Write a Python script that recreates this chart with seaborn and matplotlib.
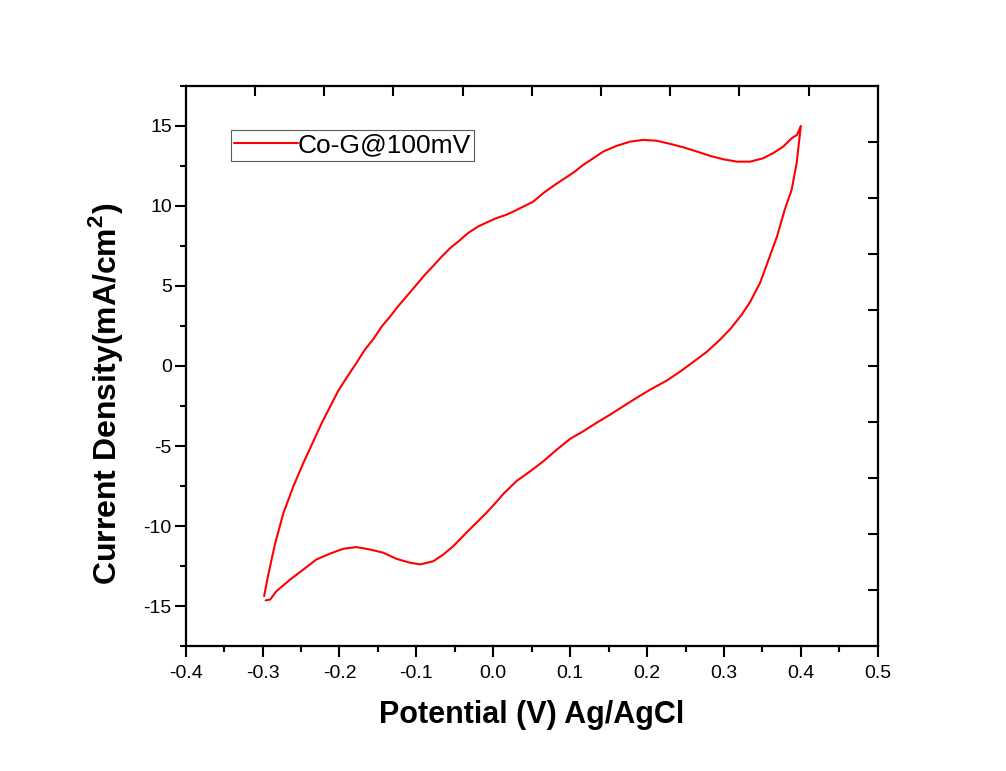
import matplotlib
matplotlib.use("Agg")
import matplotlib.pyplot as plt
import seaborn as sns
import pandas as pd
from matplotlib.ticker import MultipleLocator, FormatStrFormatter

# ---- data (anodic sweep then cathodic sweep) ----
x_fwd = [-0.298, -0.293, -0.284, -0.273, -0.260, -0.247, -0.235, -0.224, -0.212, -0.202,
         -0.191, -0.178, -0.167, -0.156, -0.145, -0.134, -0.124, -0.113, -0.100, -0.089,
         -0.078, -0.067, -0.056, -0.043, -0.033, -0.020, -0.009, 0.004, 0.017, 0.026,
         0.039, 0.052, 0.065, 0.080, 0.093, 0.106, 0.117, 0.130, 0.143, 0.160,
         0.178, 0.195, 0.212, 0.230, 0.247, 0.265, 0.282, 0.299, 0.317, 0.334,
         0.351, 0.364, 0.377, 0.388, 0.395, 0.400]
y_fwd = [-14.38, -13.13, -11.15, -9.20, -7.52, -6.06, -4.81, -3.66, -2.52, -1.58,
         -0.75, 0.19, 1.02, 1.68, 2.47, 3.10, 3.72, 4.34, 5.07, 5.70,
         6.26, 6.84, 7.37, 7.88, 8.30, 8.71, 8.96, 9.24, 9.45, 9.65,
         9.96, 10.27, 10.80, 11.32, 11.73, 12.15, 12.57, 12.98, 13.40, 13.75,
         14.02, 14.13, 14.08, 13.88, 13.67, 13.40, 13.13, 12.92, 12.77, 12.77,
         12.98, 13.30, 13.71, 14.23, 14.44, 15.00]

x_rev = [0.3945, 0.388, 0.379, 0.369, 0.358, 0.347, 0.334, 0.323, 0.308, 0.295,
         0.278, 0.260, 0.243, 0.226, 0.204, 0.186, 0.169, 0.152, 0.134, 0.117,
         0.100, 0.082, 0.065, 0.048, 0.030, 0.013, 0.004, -0.009, -0.022, -0.035,
         -0.052, -0.065, -0.078, -0.095, -0.108, -0.126, -0.143, -0.160, -0.178, -0.195,
         -0.212, -0.230, -0.247, -0.264, -0.282, -0.290, -0.296]
y_rev = [12.67, 11.00, 9.76, 8.09, 6.64, 5.20, 4.00, 3.20, 2.30, 1.65,
         0.90, 0.25, -0.35, -0.90, -1.48, -2.00, -2.52, -3.04, -3.56, -4.08,
         -4.55, -5.25, -5.96, -6.58, -7.20, -8.00, -8.50, -9.18, -9.80, -10.42,
         -11.26, -11.78, -12.20, -12.40, -12.30, -12.05, -11.67, -11.47, -11.32, -11.42,
         -11.72, -12.09, -12.72, -13.34, -14.07, -14.59, -14.65]

series_label = "Co-G@100mV"
x_label = "Potential (V) Ag/AgCl"
y_label = r"Current Density(mA/cm$^{\mathbf{2}}$)"

df = pd.DataFrame({"E": x_fwd + x_rev, "J": y_fwd + y_rev, "s": series_label})

sns.set_theme(style="white")
plt.rcParams["font.family"] = ["Liberation Sans", "DejaVu Sans"]
plt.rcParams["mathtext.fontset"] = "custom"
plt.rcParams["mathtext.rm"] = "Liberation Sans"
plt.rcParams["mathtext.bf"] = "Liberation Sans:bold"
plt.rcParams["axes.unicode_minus"] = False
for k in ("text.color", "axes.labelcolor", "xtick.color", "ytick.color",
          "axes.edgecolor"):
    plt.rcParams[k] = "black"

fig = plt.figure(figsize=(10.06, 7.71), dpi=100)
ax = fig.add_axes([0.1846, 0.1621, 0.6879, 0.7264])

sns.lineplot(data=df, x="E", y="J", hue="s", palette=["#FF0000"], sort=False,
             estimator=None, linewidth=1.5, ax=ax)

ax.set_xlim(-0.4, 0.5)
ax.set_ylim(-17.5, 17.5)
ax.xaxis.set_major_locator(MultipleLocator(0.1))
ax.xaxis.set_minor_locator(MultipleLocator(0.05))
ax.xaxis.set_major_formatter(FormatStrFormatter("%.1f"))
ax.yaxis.set_major_locator(MultipleLocator(5))
ax.yaxis.set_minor_locator(MultipleLocator(2.5))

for sp in ax.spines.values():
    sp.set_linewidth(1.5)
    sp.set_color("black")

ax.tick_params(axis="both", which="major", direction="out", length=8, width=1.5,
               colors="black", labelsize=14)
ax.tick_params(axis="both", which="minor", direction="out", length=4.5, width=1.5,
               colors="black")
ax.tick_params(axis="x", which="major", pad=6)
ax.tick_params(axis="y", which="major", pad=2)
ax.tick_params(bottom=True, left=True, top=False, right=False, which="both")

ax.set_xlabel(x_label, fontsize=22, fontweight="bold", color="black")
ax.set_ylabel(y_label, fontsize=23, fontweight="bold", color="black")
ax.xaxis.set_label_coords(0.5, -0.097)
ax.yaxis.set_label_coords(-0.088, 0.45)

# top and right linked axes with inward ticks (10 divisions)
axt = ax.twiny()
axt.set_xlim(0, 10)
axt.set_xticks(range(1, 10))
axt.tick_params(axis="x", direction="in", length=7.5, width=1.5, labeltop=False,
                top=True, colors="black")
axr = ax.twinx()
axr.set_ylim(0, 10)
axr.set_yticks(range(1, 10))
axr.tick_params(axis="y", direction="in", length=7.5, width=1.5, labelright=False,
                right=True, colors="black")
for a in (axt, axr):
    for sp in a.spines.values():
        sp.set_linewidth(1.5)
        sp.set_color("black")

leg = ax.legend(loc="upper left", bbox_to_anchor=(0.0655, 0.921), fontsize=19,
                frameon=True, fancybox=False, borderpad=0.12, borderaxespad=0,
                handlelength=2.4, handletextpad=0.0)
leg.get_frame().set_edgecolor("#333333")
leg.get_frame().set_linewidth(0.8)
for t in leg.get_texts():
    t.set_color("black")
for line in leg.get_lines():
    line.set_linewidth(1.5)

fig.savefig("out.png", dpi=100, facecolor="white")
